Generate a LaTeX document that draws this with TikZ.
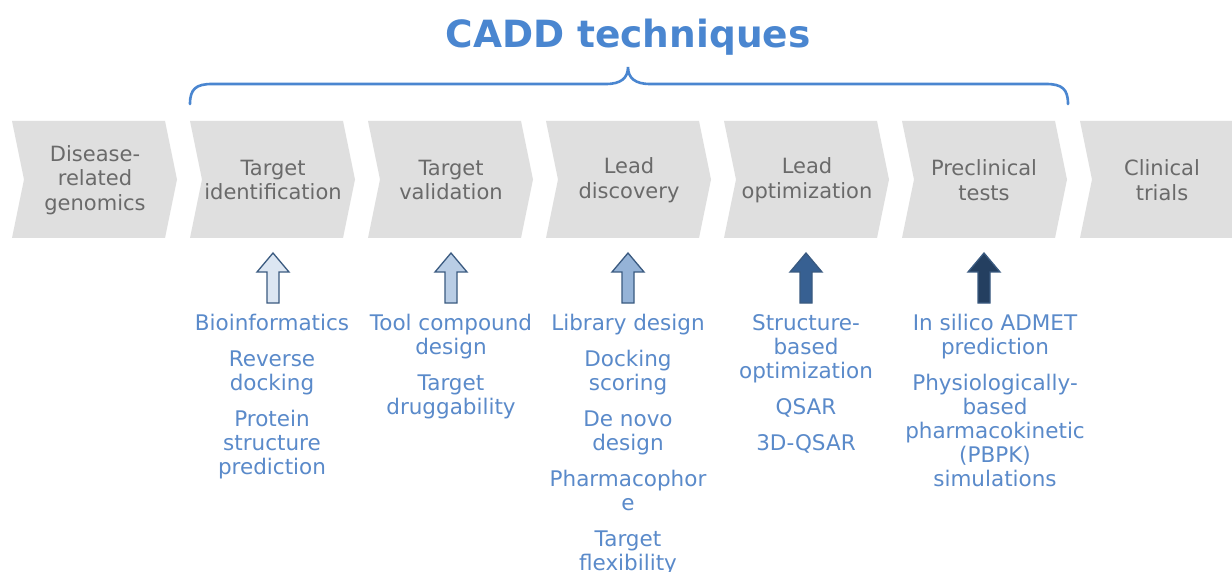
\documentclass[tikz,border=0pt]{standalone}
\usepackage{fontspec}
\setmainfont{DejaVu Sans}
\definecolor{chevfill}{HTML}{DFDFDF}
\definecolor{chevtext}{HTML}{6A6A6A}
\definecolor{titleblue}{HTML}{4A86D0}
\definecolor{listblue}{HTML}{5A8ACA}
\definecolor{arrline}{HTML}{3A5A80}
\definecolor{fillA}{HTML}{DCE6F2}
\definecolor{fillB}{HTML}{B9CDE5}
\definecolor{fillC}{HTML}{95B3D7}
\definecolor{fillD}{HTML}{376092}
\definecolor{fillE}{HTML}{243F60}
\tikzset{
  stagetext/.style={text=chevtext, align=center, font=\fontsize{21}{24.5}\selectfont, inner sep=0pt},
  listtext/.style={text=listblue, align=center, font=\fontsize{21.5}{24}\selectfont, inner sep=0pt, anchor=north},
  chev/.style={fill=chevfill, draw=none},
  uparrow/.style={draw=arrline, line width=1.3pt, line join=miter},
  brace/.style={draw=titleblue, line width=2.6pt, line cap=round}
}
\begin{document}
\begin{tikzpicture}[x=1pt,y=-1pt]
\clip (0,0) rectangle (1232,572);
\fill[white] (0,0) rectangle (1232,572);

% process chevrons
\foreach \L in {12,190,368,546,724,902,1080}{
  \path[chev] (\L,121) -- (\L+153,121) -- (\L+165,179.5) -- (\L+153,238)
     -- (\L,238) -- (\L+12,179.5) -- cycle;
}

% stage labels
\node[stagetext] (s1) at (95,180) {Disease-\\related\\genomics};
\node[stagetext] (s2) at (273,180) {Target\\identification};
\node[stagetext] (s3) at (451,180) {Target\\validation};
\node[stagetext] (s4) at (629,180) {Lead\\discovery};
\node[stagetext] (s5) at (807,180) {Lead\\optimization};
\node[stagetext] (s6) at (984,180) {Preclinical\\tests};
\node[stagetext] (s7) at (1162,180) {Clinical\\trials};

% title and brace over the CADD stages
\node[text=titleblue, font=\fontsize{37.5}{40}\selectfont\bfseries, inner sep=0pt] (title) at (628,37) {CADD techniques};
\path[brace] (190,104) .. controls (190,89) and (196,84) .. (212,84) -- (606,84)
  .. controls (621,84) and (628,78) .. (628,67)
  .. controls (628,78) and (635,84) .. (650,84) -- (1046,84)
  .. controls (1062,84) and (1068,89) .. (1068,104);

% block arrows, shading darker along the pipeline
\foreach \c/\f in {273/fillA,451/fillB,628/fillC,806/fillD,984/fillE}{
  \path[uparrow, fill=\f] (\c,253) -- (\c+16,272) -- (\c+6,272) -- (\c+6,303)
     -- (\c-6,303) -- (\c-6,272) -- (\c-16,272) -- cycle;
}

% techniques per stage
\node[listtext] (t1) at (272,314) {Bioinformatics\\[12pt]Reverse\\docking\\[12pt]Protein\\structure\\prediction};
\node[listtext] (t2) at (451,314) {Tool compound\\design\\[12pt]Target\\druggability};
\node[listtext] (t3) at (628,314) {Library design\\[12pt]Docking\\scoring\\[12pt]De novo\\design\\[12pt]Pharmacophor\\e\\[12pt]Target\\flexibility};
\node[listtext] (t4) at (806,314) {Structure-\\based\\optimization\\[12pt]QSAR\\[12pt]3D-QSAR};
\node[listtext] (t5) at (995,314) {In silico ADMET\\prediction\\[12pt]Physiologically-\\based\\pharmacokinetic\\(PBPK)\\simulations};
\end{tikzpicture}
\end{document}
